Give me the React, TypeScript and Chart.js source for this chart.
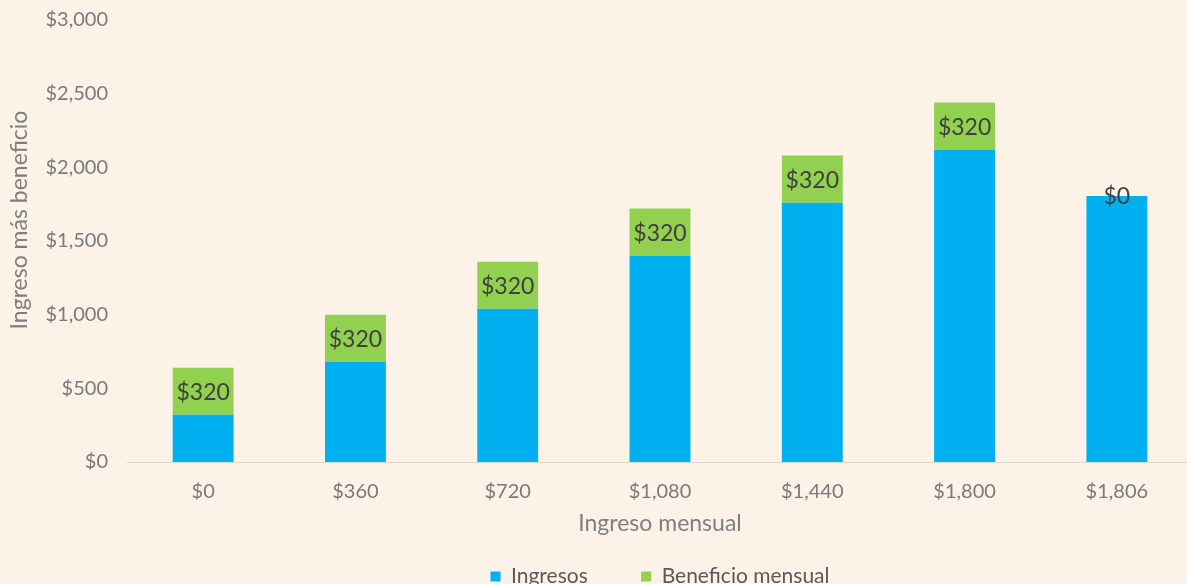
import React, { useEffect, useRef } from 'react';
import { Chart, registerables } from 'chart.js';

Chart.register(...registerables);

const categories = ['$0', '$360', '$720', '$1,080', '$1,440', '$1,800', '$1,806'];
const ingresos = [320, 680, 1040, 1400, 1760, 2120, 1806];
const beneficio = [320, 320, 320, 320, 320, 320, 0];
const beneficioLabels = ['$320', '$320', '$320', '$320', '$320', '$320', '$0'];
const seriesNames = ['Ingresos', 'Beneficio mensual'];
const yTitle = 'Ingreso más beneficio';
const xTitle = 'Ingreso mensual';
const yMin = 0;
const yMax = 3000;
const yStep = 500;

const FONT = 'Lato, "Open Sans", sans-serif';
const BG = '#fdf2e8';

const segmentLabels = {
  id: 'segmentLabels',
  afterDatasetsDraw(chart: any) {
    const meta = chart.getDatasetMeta(1);
    const ctx = chart.ctx;
    ctx.save();
    ctx.font = `23px ${FONT}`;
    ctx.fillStyle = '#404040';
    ctx.textAlign = 'center';
    ctx.textBaseline = 'middle';
    meta.data.forEach((el: any, i: number) => {
      const { x, y, base } = el.getProps(['x', 'y', 'base'], true);
      ctx.fillText(beneficioLabels[i], x, (y + base) / 2 + 1);
    });
    ctx.restore();
  },
};

const yTitlePlugin = {
  id: 'yTitle',
  afterDraw(chart: any) {
    const ctx = chart.ctx;
    const area = chart.chartArea;
    ctx.save();
    ctx.font = `23px ${FONT}`;
    ctx.fillStyle = '#7f7f7f';
    ctx.textAlign = 'center';
    ctx.textBaseline = 'middle';
    ctx.translate(20, (area.top + area.bottom) / 2 - 21);
    ctx.rotate(-Math.PI / 2);
    ctx.fillText(yTitle, 0, 0);
    ctx.restore();
  },
};

const bgPlugin = {
  id: 'bg',
  beforeDraw(chart: any) {
    const ctx = chart.ctx;
    ctx.save();
    ctx.fillStyle = BG;
    ctx.fillRect(0, 0, chart.width, chart.height);
    ctx.restore();
  },
};

export default function App() {
  const ref = useRef<HTMLCanvasElement | null>(null);
  useEffect(() => {
    if (!ref.current) return;
    const chart = new Chart(ref.current, {
      type: 'bar',
      data: {
        labels: categories,
        datasets: [
          { label: seriesNames[0], data: ingresos, backgroundColor: '#00b0f0', barPercentage: 0.4, categoryPercentage: 1 },
          { label: seriesNames[1], data: beneficio, backgroundColor: '#92d050', barPercentage: 0.4, categoryPercentage: 1 },
        ],
      },
      options: {
        responsive: false,
        animation: false,
        devicePixelRatio: 1,
        layout: { padding: { top: 20, right: 7, left: 0, bottom: 0 } },
        plugins: {
          tooltip: { enabled: false },
          legend: {
            position: 'bottom',
            fullSize: false,
            labels: {
              boxWidth: 10,
              boxHeight: 10,
              padding: 5,
              color: '#595959',
              font: { family: FONT, size: 21 },
              generateLabels(c: any) {
                const items = (Chart.defaults.plugins.legend.labels as any).generateLabels(c);
                items.forEach((it: any, i: number) => {
                  it.lineWidth = 0;
                  if (i === 0) it.text = it.text + '\u00a0'.repeat(9);
                });
                return items;
              },
            },
          },
        },
        scales: {
          x: {
            stacked: true,
            grid: { display: false, drawTicks: false },
            border: { display: true, color: '#d9d6d2', width: 1 },
            ticks: { color: '#7a7a7a', font: { family: FONT, size: 20 }, padding: 18 },
            title: { display: true, text: xTitle, color: '#7f7f7f', font: { family: FONT, size: 23 }, padding: { top: 4, bottom: 24 } },
            afterFit(s: any) { s.height = 99; },
          },
          y: {
            stacked: true,
            min: yMin,
            max: yMax,
            grid: { display: false, drawTicks: false },
            border: { display: false },
            ticks: {
              stepSize: yStep,
              color: '#7a7a7a',
              font: { family: FONT, size: 20 },
              padding: 19,
              callback: (v: any) => '$' + Number(v).toLocaleString('en-US'),
            },
            afterFit(s: any) {
              s.width = 127;
              s.paddingTop = 0;
              s.paddingBottom = 0;
            },
          },
        },
      },
      plugins: [bgPlugin, segmentLabels, yTitlePlugin],
    });
    return () => chart.destroy();
  }, []);
  return (
    <div style={{ position: 'fixed', left: 0, top: 0, width: 1187, height: 584, overflow: 'hidden', background: BG }}>
      <canvas ref={ref} width={1200} height={597} style={{ display: 'block' }} />
    </div>
  );
}
